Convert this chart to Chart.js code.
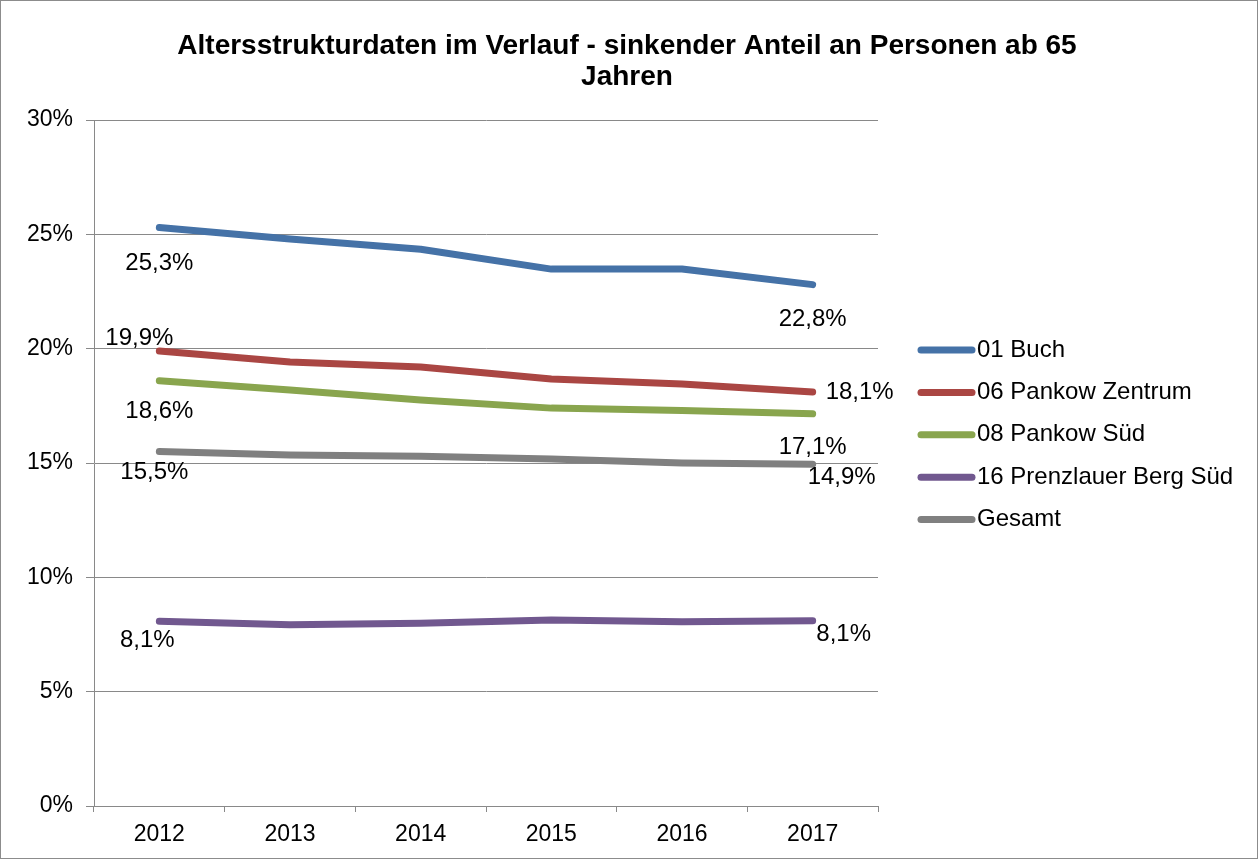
<!DOCTYPE html>
<html>
<head>
<meta charset="utf-8">
<script src="https://cdn.jsdelivr.net/npm/chart.js@4/dist/chart.umd.min.js"></script>
<style>
  html, body { margin: 0; padding: 0; background: #fff; }
  #wrap { width: 1258px; height: 859px; position: relative; }
</style>
</head>
<body>
<div id="wrap"><canvas id="c" width="1258" height="859"></canvas></div>
<script>
// ── Data ────────────────────────────────────────────────────────────────
const TITLE_LINES = ['Altersstrukturdaten im Verlauf - sinkender Anteil an Personen ab 65', 'Jahren'];
const YEARS = ['2012', '2013', '2014', '2015', '2016', '2017'];

const BUCH        = [25.3, 24.8, 24.35, 23.48, 23.48, 22.8];
const ZENTRUM     = [19.9, 19.42, 19.2, 18.67, 18.45, 18.1];
const SUED        = [18.6, 18.19, 17.76, 17.4, 17.3, 17.15];
const PRENZLAUER  = [8.08, 7.93, 7.99, 8.13, 8.06, 8.1];
const GESAMT      = [15.5, 15.35, 15.3, 15.17, 15.0, 14.95];

const SERIES_NAMES = ['01 Buch', '06 Pankow Zentrum', '08 Pankow Süd', '16 Prenzlauer Berg Süd', 'Gesamt'];
const SERIES_COLORS = ['#4572A7', '#AA4643', '#89A54E', '#71588F', '#808080'];
const SERIES_DATA = [BUCH, ZENTRUM, SUED, PRENZLAUER, GESAMT];

// label offsets (px) for first / last value labels, per series
const LABEL_OFFSETS = [
  { first: [0, 36],   last: [0, 35] },
  { first: [-20, -13], last: [47, 0] },
  { first: [0, 31],   last: [0, 34] },
  { first: [-12, 19], last: [31, 14] },
  { first: [-5, 21],  last: [29, 13] },
];

const FONT = '"Liberation Sans", Arial, sans-serif';
const fmtPct = v => v.toFixed(1).replace('.', ',') + '%';

// ── Plugins ─────────────────────────────────────────────────────────────
const frameAndTitle = {
  id: 'frameAndTitle',
  afterDraw(chart) {
    const ctx = chart.ctx;
    ctx.save();
    ctx.strokeStyle = '#8c8c8c';
    ctx.lineWidth = 1;
    ctx.strokeRect(0.5, 0.5, chart.width - 1, chart.height - 1);
    ctx.fillStyle = '#000';
    ctx.font = 'bold 28px ' + FONT;
    ctx.textAlign = 'center';
    ctx.textBaseline = 'middle';
    ctx.fillText(TITLE_LINES[0], 627, 46);
    ctx.fillText(TITLE_LINES[1], 627, 77);
    ctx.restore();
  }
};

const endLabels = {
  id: 'endLabels',
  afterDatasetsDraw(chart) {
    const ctx = chart.ctx;
    ctx.save();
    ctx.font = '24px ' + FONT;
    ctx.fillStyle = '#000';
    ctx.textAlign = 'center';
    ctx.textBaseline = 'middle';
    chart.data.datasets.forEach((ds, i) => {
      const meta = chart.getDatasetMeta(i);
      const n = ds.data.length;
      const off = LABEL_OFFSETS[i];
      const p0 = meta.data[0], pn = meta.data[n - 1];
      ctx.fillText(fmtPct(ds.data[0]), p0.x + off.first[0], p0.y + off.first[1]);
      ctx.fillText(fmtPct(ds.data[n - 1]), pn.x + off.last[0], pn.y + off.last[1]);
    });
    ctx.restore();
  }
};

const sideLegend = {
  id: 'sideLegend',
  afterDraw(chart) {
    const ctx = chart.ctx;
    ctx.save();
    ctx.font = '24px ' + FONT;
    ctx.textBaseline = 'middle';
    ctx.textAlign = 'left';
    chart.data.datasets.forEach((ds, i) => {
      const y = 350 + i * 42.4;
      ctx.strokeStyle = ds.borderColor;
      ctx.lineWidth = 7;
      ctx.lineCap = 'round';
      ctx.beginPath();
      ctx.moveTo(921, y);
      ctx.lineTo(972, y);
      ctx.stroke();
      ctx.fillStyle = '#000';
      ctx.fillText(ds.label, 977, y);
    });
    ctx.restore();
  }
};

// ── Chart ───────────────────────────────────────────────────────────────
new Chart(document.getElementById('c'), {
  type: 'line',
  data: {
    labels: YEARS,
    datasets: SERIES_NAMES.map((name, i) => ({
      label: name,
      data: SERIES_DATA[i],
      borderColor: SERIES_COLORS[i],
      backgroundColor: SERIES_COLORS[i],
      borderWidth: 7,
      borderCapStyle: 'round',
      borderJoinStyle: 'round',
      pointRadius: 0,
      tension: 0,
      fill: false,
    })),
  },
  options: {
    responsive: false,
    animation: false,
    layout: { padding: { left: 0, right: 380, top: 120, bottom: 0 } },
    plugins: { legend: { display: false }, title: { display: false }, tooltip: { enabled: false } },
    scales: {
      x: {
        offset: true,
        grid: { display: true, drawOnChartArea: false, drawTicks: true, tickLength: 6, offset: true, color: '#898989' },
        border: { display: true, color: '#898989', width: 1 },
        ticks: { color: '#000', font: { family: FONT, size: 23 }, padding: 9 },
        afterFit: s => { s.height = 53; },
      },
      y: {
        min: 0, max: 30,
        grid: { color: '#898989', lineWidth: 1, tickLength: 8 },
        border: { display: true, color: '#898989', width: 1 },
        ticks: { stepSize: 5, color: '#000', font: { family: FONT, size: 23 }, padding: 13, callback: v => v + '%' },
        afterFit: s => { s.width = 94; },
      },
    },
  },
  plugins: [frameAndTitle, endLabels, sideLegend],
});
</script>
</body>
</html>
